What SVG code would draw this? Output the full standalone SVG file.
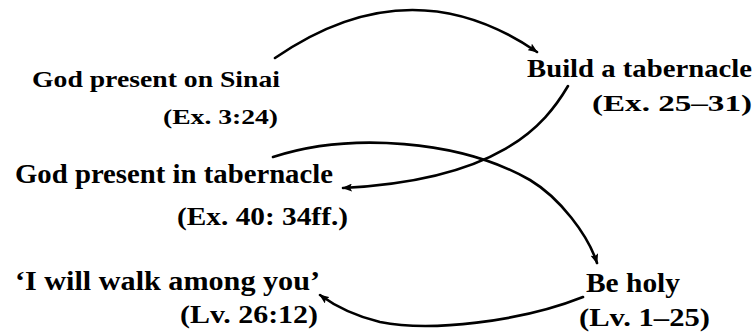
<svg xmlns="http://www.w3.org/2000/svg" width="755" height="335" viewBox="0 0 755 335">
<defs>
<marker id="ah" viewBox="0 0 10 8" refX="9" refY="4" markerWidth="10" markerHeight="8" markerUnits="userSpaceOnUse" orient="auto">
<path d="M0,0 L10,4 L0,8 L2,4 Z" fill="#000"/>
</marker>
</defs>
<style>
text{font-family:"Liberation Serif","Times New Roman",serif;font-weight:bold;fill:#000}
.c{fill:none;stroke:#000;stroke-width:2.6;stroke-linecap:round;marker-end:url(#ah)}
</style>
<rect width="755" height="335" fill="#fff"/>
<g id="sinai">
<text x="32" y="87" font-size="24" textLength="248" lengthAdjust="spacingAndGlyphs">God present on Sinai</text>
<text x="163" y="124" font-size="22" textLength="115" lengthAdjust="spacingAndGlyphs">(Ex. 3:24)</text>
</g>
<g id="build">
<text x="527" y="77" font-size="25" textLength="225" lengthAdjust="spacingAndGlyphs">Build a tabernacle</text>
<text x="592" y="111" font-size="24" textLength="160" lengthAdjust="spacingAndGlyphs">(Ex. 25–31)</text>
</g>
<g id="tabernacle">
<text x="15" y="183" font-size="28" textLength="318" lengthAdjust="spacingAndGlyphs">God present in tabernacle</text>
<text x="177" y="225" font-size="26" textLength="171" lengthAdjust="spacingAndGlyphs">(Ex. 40: 34ff.)</text>
</g>
<g id="walk">
<text x="15" y="290" font-size="27" textLength="305" lengthAdjust="spacingAndGlyphs">‘I will walk among you’</text>
<text x="180" y="323" font-size="26" textLength="138" lengthAdjust="spacingAndGlyphs">(Lv. 26:12)</text>
</g>
<g id="holy">
<text x="586" y="292" font-size="27" textLength="94" lengthAdjust="spacingAndGlyphs">Be holy</text>
<text x="579" y="326" font-size="26" textLength="131" lengthAdjust="spacingAndGlyphs">(Lv. 1–25)</text>
</g>
<g id="connectors">
<path class="c" d="M275,58 Q410,-35 537,52"/>
<path class="c" d="M568,86 C545,125 500,180 343,188"/>
<path class="c" d="M273,157 C350,132 460,140 530,180 C560,198 588,235 597,263"/>
<path class="c" d="M583,297 C520,322 430,332 380,322 C355,316 335,306 320,295"/>
</g>
</svg>
